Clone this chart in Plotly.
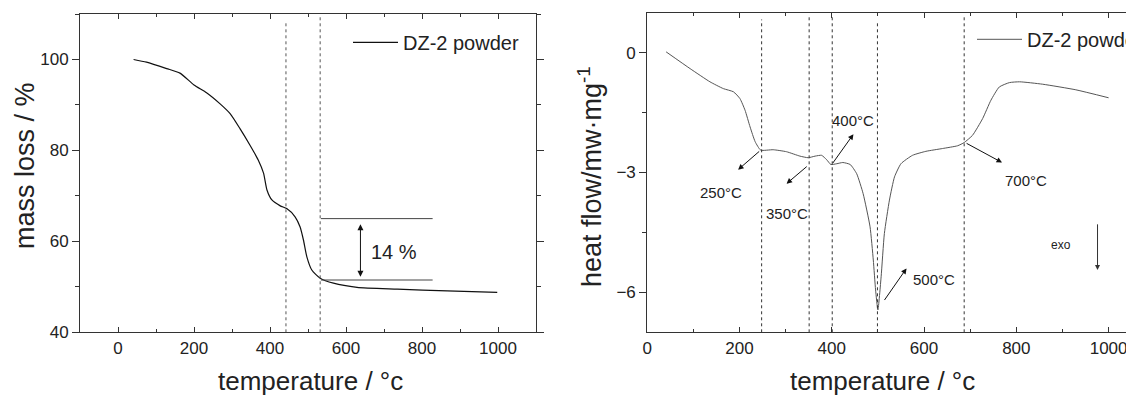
import plotly.graph_objects as go

# ---------------- data ----------------
# TGA (left panel)
tga_T = [41, 75, 128, 163, 200, 233, 268, 295, 321, 347, 369, 383, 392, 405, 427,
         444, 466, 479, 488, 497, 510, 532, 567, 629, 735, 866, 998]
tga_mass = [100, 99.4, 98.0, 97.0, 94.4, 92.7, 90.3, 88.1, 84.8, 81.2, 77.9, 75.0, 71.3, 69.1, 67.8,
            67.2, 65.4, 63.2, 60.3, 56.6, 53.7, 51.9, 50.8, 49.9, 49.5, 49.1, 48.8]
tga_vlines_T = [442, 532]
tga_vlines_top = [108, 109.4]
tga_level_T = [534, 828]
tga_levels = [65.0, 51.5]
tga_step_T = 638
tga_step_range = [52.2, 64.1]
tga_step_label = "14 %"

# DSC (right panel)
dsc_T = [41, 93, 136, 165, 187, 201, 212, 223, 234, 246, 273, 302, 331, 349, 364, 378, 389, 398,
         411, 424, 440, 454, 468, 483, 490, 495, 500, 507, 514, 525, 536, 550, 575, 604, 640,
         673, 687, 705, 727, 745, 763, 785, 807, 857, 929, 1000]
dsc_hf = [0.02, -0.40, -0.73, -0.90, -0.98, -1.15, -1.44, -1.86, -2.23, -2.44, -2.43, -2.48, -2.59,
          -2.63, -2.59, -2.57, -2.68, -2.80, -2.78, -2.75, -2.80, -3.03, -3.53, -4.36, -5.19, -5.94,
          -6.44, -5.61, -4.53, -3.69, -3.11, -2.78, -2.57, -2.47, -2.40, -2.33, -2.25, -2.07, -1.65,
          -1.19, -0.86, -0.75, -0.73, -0.79, -0.93, -1.13]
dsc_vlines_T = [248, 351, 401, 499, 687]
dsc_vlines_top = [0.83, 0.92, 0.92, 0.78, 0.94]
# (label, arrow tail T, tail hf, head T, head hf, label T, label hf)
dsc_marks = [
    ("250°C", 246, -2.44, 197, -2.93, 161, -3.49),
    ("350°C", 349, -2.82, 302, -3.28, 302, -4.03),
    ("400°C", 400, -2.80, 447, -2.04, 447, -1.69),
    ("500°C", 512, -6.23, 562, -5.40, 622, -5.68),
    ("700°C", 689, -2.25, 769, -2.75, 820, -3.19),
]
exo_arrow = (976, -4.26, -5.44)
exo_label = ("exo", 897, -4.82)

series_name = "DZ-2 powder"

# ---------------- figure ----------------
W, H = 1126, 395
FONT = "Arial, 'Liberation Sans', Helvetica, sans-serif"
AX = "#333333"
TXT = "#222222"

fig = go.Figure()

fig.add_trace(go.Scatter(x=tga_T, y=tga_mass, mode="lines", name=series_name,
                         line=dict(color="#111111", width=1.2, shape="spline", smoothing=0.6),
                         xaxis="x", yaxis="y", legend="legend", showlegend=True))
for t, top in zip(tga_vlines_T, tga_vlines_top):
    fig.add_trace(go.Scatter(x=[t, t], y=[40, top], mode="lines", showlegend=False,
                             line=dict(color="#555555", width=1, dash="dot"), xaxis="x", yaxis="y"))
for lv in tga_levels:
    fig.add_trace(go.Scatter(x=tga_level_T, y=[lv, lv], mode="lines", showlegend=False,
                             line=dict(color="#444444", width=1), xaxis="x", yaxis="y"))

fig.add_trace(go.Scatter(x=dsc_T, y=dsc_hf, mode="lines", name=series_name,
                         line=dict(color="#555555", width=1, shape="spline", smoothing=0.5),
                         xaxis="x2", yaxis="y2", legend="legend2", showlegend=True))
for t, top in zip(dsc_vlines_T, dsc_vlines_top):
    fig.add_trace(go.Scatter(x=[t, t], y=[-7, top], mode="lines", showlegend=False,
                             line=dict(color="#333333", width=1, dash="dot"), xaxis="x2", yaxis="y2"))

annotations = []
# double arrow 14 %
annotations.append(dict(xref="x", yref="y", axref="x", ayref="y", x=tga_step_T, y=tga_step_range[0],
                        ax=tga_step_T, ay=tga_step_range[1], text="", showarrow=True,
                        arrowhead=2, arrowside="end+start", arrowsize=1.2, arrowwidth=1,
                        arrowcolor="#111111", standoff=0, startstandoff=0))
annotations.append(dict(xref="x", yref="y", x=727, y=57.7, text=tga_step_label, showarrow=False,
                        xanchor="center", yanchor="middle",
                        font=dict(family=FONT, size=20, color=TXT)))
for lab, tx, ty, hx, hy, lx, ly in dsc_marks:
    annotations.append(dict(xref="x2", yref="y2", axref="x2", ayref="y2", x=hx, y=hy, ax=tx, ay=ty,
                            text="", showarrow=True, arrowhead=2, arrowsize=1.1, arrowwidth=1,
                            arrowcolor="#111111", standoff=0))
    annotations.append(dict(xref="x2", yref="y2", x=lx, y=ly, text=lab, showarrow=False,
                            xanchor="center", yanchor="middle",
                            font=dict(family=FONT, size=15, color=TXT)))
annotations.append(dict(xref="x2", yref="y2", axref="x2", ayref="y2", x=exo_arrow[0], y=exo_arrow[2],
                        ax=exo_arrow[0], ay=exo_arrow[1], text="", showarrow=True, arrowhead=2,
                        arrowsize=1, arrowwidth=1, arrowcolor="#333333", standoff=0))
annotations.append(dict(xref="x2", yref="y2", x=exo_label[1], y=exo_label[2], text=exo_label[0],
                        showarrow=False, xanchor="center", yanchor="middle",
                        font=dict(family=FONT, size=12, color=TXT)))

# axis titles
annotations.append(dict(xref="paper", yref="paper", x=25 / W, y=1 - 166 / H, text="mass loss / %",
                        textangle=-90, showarrow=False, xanchor="center", yanchor="middle",
                        font=dict(family=FONT, size=27, color=TXT)))
annotations.append(dict(xref="paper", yref="paper", x=310 / W, y=1 - 381 / H, text="temperature / °c",
                        showarrow=False, xanchor="center", yanchor="middle",
                        font=dict(family=FONT, size=26, color=TXT)))
annotations.append(dict(xref="paper", yref="paper", x=590 / W, y=1 - 177 / H,
                        text="heat flow/mw·mg<sup>-1</sup>", textangle=-90, showarrow=False,
                        xanchor="center", yanchor="middle",
                        font=dict(family=FONT, size=27, color=TXT)))
annotations.append(dict(xref="paper", yref="paper", x=882 / W, y=1 - 381 / H, text="temperature / °c",
                        showarrow=False, xanchor="center", yanchor="middle",
                        font=dict(family=FONT, size=26, color=TXT)))

tickfont = dict(family=FONT, size=17, color=TXT)

fig.update_layout(
    width=W, height=H,
    margin=dict(l=0, r=0, t=0, b=0, autoexpand=False),
    paper_bgcolor="white", plot_bgcolor="white",
    font=dict(family=FONT, color=TXT),
    annotations=annotations,
    xaxis=dict(domain=[80 / W, 536 / W], range=[-100, 1100], dtick=200, tick0=0,
               ticks="inside", ticklen=5, tickcolor=AX, showline=True, linecolor=AX, linewidth=1,
               mirror="ticks", showgrid=False, zeroline=False, tickfont=tickfont,
               minor=dict(dtick=100, tick0=0, ticks="inside", ticklen=3, tickcolor=AX),
               anchor="y"),
    yaxis=dict(domain=[1 - 332.3 / H, 1 - 14 / H], range=[40, 110], dtick=20, tick0=0,
               ticks="outside", ticklen=7, tickcolor=AX, showline=True, linecolor=AX, linewidth=1,
               mirror="ticks", showgrid=False, zeroline=False, tickfont=tickfont,
               minor=dict(dtick=10, tick0=0, ticks="outside", ticklen=4, tickcolor=AX),
               anchor="x"),
    xaxis2=dict(domain=[647.2 / W, 1.0], range=[0, (W - 647.2) / 0.4614], dtick=200, tick0=0,
                ticks="inside", ticklen=5, tickcolor=AX, showline=True, linecolor=AX, linewidth=1,
                mirror="ticks", showgrid=False, zeroline=False, tickfont=tickfont,
                ticklabeloverflow="allow",
                minor=dict(dtick=100, tick0=0, ticks="inside", ticklen=3, tickcolor=AX),
                anchor="y2"),
    yaxis2=dict(domain=[1 - 332.3 / H, 1 - 12.7 / H], range=[-7, 1], dtick=3, tick0=0,
                ticks="outside", ticklen=7, tickcolor=AX, showline=True, linecolor=AX, linewidth=1,
                mirror=False, showgrid=False, zeroline=False, tickfont=tickfont,
                minor=dict(dtick=1.5, tick0=0, ticks="outside", ticklen=4, tickcolor=AX),
                anchor="x2"),
    legend=dict(x=348 / W, y=1 - 42.3 / H, xanchor="left", yanchor="middle", itemwidth=45,
                bgcolor="rgba(0,0,0,0)", borderwidth=0, font=dict(family=FONT, size=20, color=TXT)),
    legend2=dict(x=972 / W, y=1 - 39.3 / H, xanchor="left", yanchor="middle", itemwidth=45,
                 bgcolor="rgba(0,0,0,0)", borderwidth=0, font=dict(family=FONT, size=20, color=TXT)),
)

fig.write_html("out.html",
               config={"displayModeBar": False},
               post_script="document.body.style.margin='0';document.body.style.padding='0';"
                           "document.body.style.overflow='hidden';")
